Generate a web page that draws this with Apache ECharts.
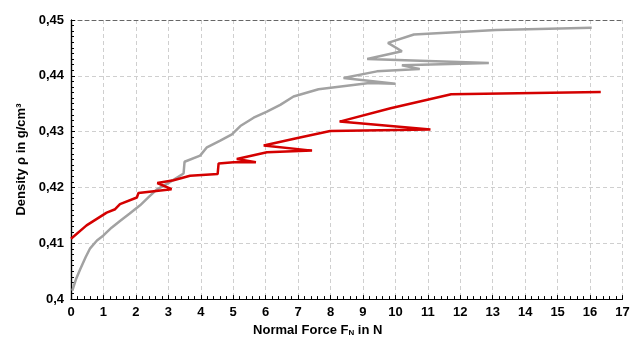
<!DOCTYPE html>
<html>
<head>
	<meta charset="utf-8"/>
	<script src="https://cdn.jsdelivr.net/npm/echarts@6/dist/echarts.min.js"></script>
	<style>
		html, body {
			margin: 0;
			padding: 0;
			background: #ffffff;
		}
		#chart {
			width: 643px;
			height: 342px;
		}
	</style>
	<title>Density vs Normal Force</title>
</head>
<body>
	<div id="chart"></div>
	<script>
		// gray curve
		let grayForce = [0.04, 0.15, 0.28, 0.45, 0.59, 0.8, 1.0, 1.25, 1.51, 1.8, 2.13, 2.4, 2.64, 3.06, 3.47, 3.5, 3.98, 4.19, 4.6, 4.96, 5.22, 5.63, 6.04, 6.45, 6.86, 7.63, 9.2, 10.0, 8.4, 9.43, 10.75, 10.2, 12.88, 9.13, 10.2, 9.77, 10.57, 13.1, 16.05];
		let grayDensity = [0.4015, 0.4035, 0.4053, 0.4075, 0.4091, 0.4105, 0.4114, 0.4128, 0.414, 0.4153, 0.4168, 0.4183, 0.4196, 0.421, 0.4225, 0.4246, 0.4257, 0.4272, 0.4284, 0.4295, 0.431, 0.4325, 0.4336, 0.4348, 0.4363, 0.4376, 0.4387, 0.4386, 0.4396, 0.4408, 0.4412, 0.4419, 0.4423, 0.443, 0.4444, 0.4459, 0.4474, 0.4482, 0.4486];

		// red curve
		let redForce = [0.0, 0.48, 1.1, 1.36, 1.51, 2.03, 2.08, 3.1, 2.66, 3.16, 3.67, 4.52, 4.55, 5.01, 5.7, 5.11, 6.04, 7.43, 5.94, 7.02, 7.99, 11.08, 8.28, 9.85, 11.72, 16.33];
		let redDensity = [0.4108, 0.4132, 0.4155, 0.4161, 0.417, 0.4182, 0.419, 0.4197, 0.4208, 0.4213, 0.4221, 0.4224, 0.4243, 0.4245, 0.4245, 0.4251, 0.4263, 0.4266, 0.4275, 0.4289, 0.4301, 0.4304, 0.4318, 0.4342, 0.4367, 0.4371];

		let fontName = '"Liberation Sans", Arial, sans-serif';

		function pairs(xs, ys){
			return xs.map((x, i) => [x, ys[i]]);
		}
		function commaLabel(v){
			return String(+v.toFixed(2)).replace('.', ',');
		}

		let chart = echarts.init(document.querySelector('#chart'));
		chart.setOption({
			animation: false,
			backgroundColor: '#ffffff',
			grid: {
				left: 71,
				right: 20.5,
				top: 20,
				bottom: 37
			},
			xAxis: [{
				type: 'value',
				min: 0,
				max: 17,
				interval: 1,
				name: 'Normal Force F{sub|N} in N',
				nameLocation: 'middle',
				nameGap: 20,
				nameTextStyle: {
					fontFamily: fontName,
					fontWeight: 'bold',
					fontSize: 13,
					color: '#000',
					// label sits a bit left of the plot centre
					padding: [0, 58, 0, 0],
					rich: {
						sub: {fontFamily: fontName, fontWeight: 'bold', fontSize: 8, color: '#000', verticalAlign: 'bottom', padding: [5, 0, 0, 0]}
					}
				},
				axisLine: {onZero: false, lineStyle: {color: '#000', width: 1.2}},
				axisTick: {show: true, inside: true, length: 4, lineStyle: {color: '#000'}},
				minorTick: {show: true, splitNumber: 5, length: 3, lineStyle: {color: '#000'}},
				axisLabel: {
					margin: 7,
					fontFamily: fontName,
					fontWeight: 'bold',
					fontSize: 13,
					color: '#000'
				},
				splitLine: {show: true, lineStyle: {color: '#cfcfcf', type: [4, 3]}}
			}, {
				// top edge
				type: 'value',
				position: 'top',
				min: 0,
				max: 17,
				axisLine: {show: true, lineStyle: {color: '#666', type: [4, 3]}},
				axisTick: {show: false},
				axisLabel: {show: false},
				splitLine: {show: false}
			}],
			yAxis: [{
				type: 'value',
				min: 0.40,
				max: 0.45,
				interval: 0.01,
				name: 'Density ρ in g/cm³',
				nameLocation: 'middle',
				nameGap: 42,
				nameTextStyle: {
					fontFamily: fontName,
					fontWeight: 'bold',
					fontSize: 13,
					color: '#000'
				},
				axisLine: {show: true, lineStyle: {color: '#000', width: 1.2}},
				axisTick: {show: true, inside: true, length: 4, lineStyle: {color: '#000'}},
				minorTick: {show: true, splitNumber: 10, length: 3, lineStyle: {color: '#000'}},
				axisLabel: {
					margin: 7,
					fontFamily: fontName,
					fontWeight: 'bold',
					fontSize: 13,
					color: '#000',
					formatter: commaLabel
				},
				splitLine: {show: true, lineStyle: {color: '#cfcfcf', type: [4, 3]}}
			}, {
				// right edge
				type: 'value',
				position: 'right',
				min: 0.40,
				max: 0.45,
				axisLine: {show: true, lineStyle: {color: '#000', width: 1.2}},
				axisTick: {show: false},
				axisLabel: {show: false},
				splitLine: {show: false}
			}],
			series: [{
				type: 'line',
				name: 'gray',
				data: pairs(grayForce, grayDensity),
				showSymbol: false,
				symbol: 'none',
				lineStyle: {color: '#a2a2a2', width: 2.5}
			}, {
				type: 'line',
				name: 'red',
				data: pairs(redForce, redDensity),
				showSymbol: false,
				symbol: 'none',
				lineStyle: {color: '#d40000', width: 2.5}
			}]
		});
	</script>
</body>
</html>
